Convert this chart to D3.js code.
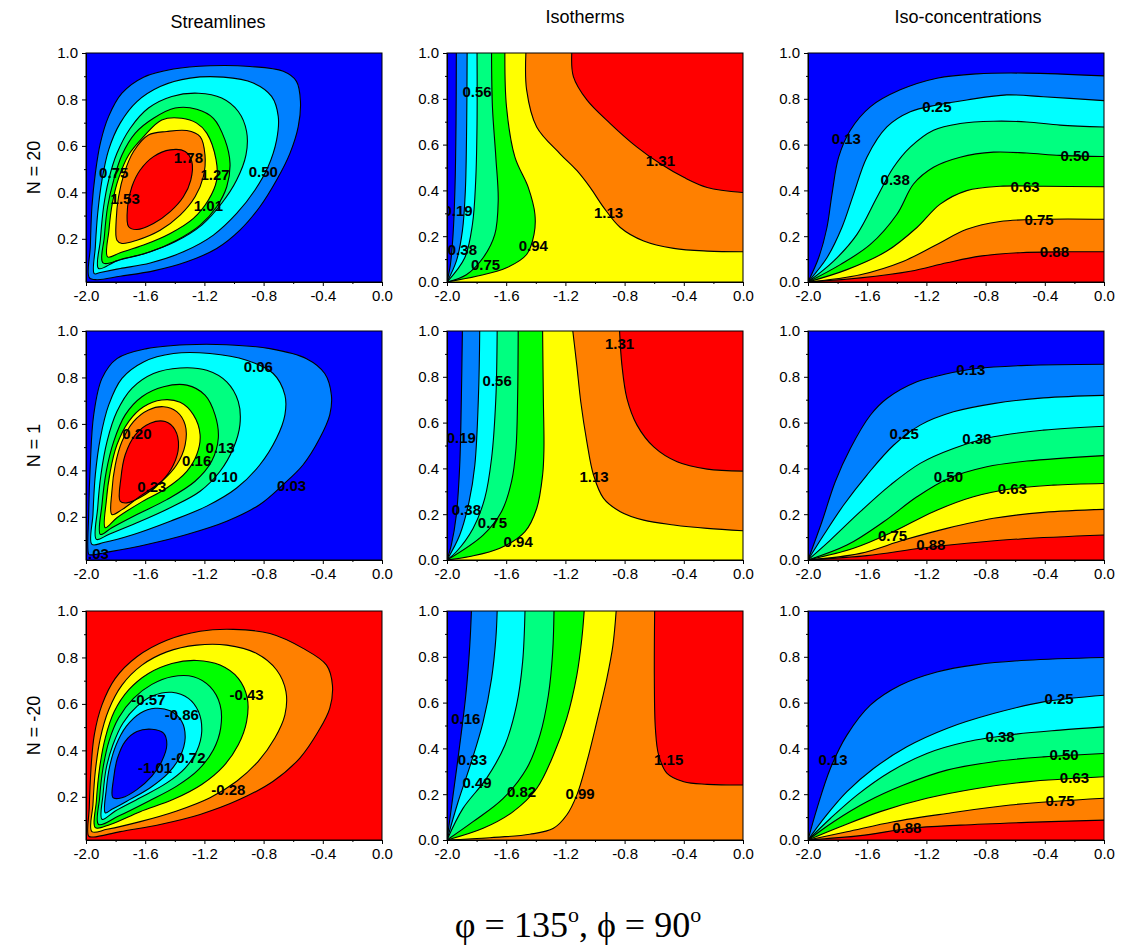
<!DOCTYPE html>
<html>
<head>
<meta charset="utf-8">
<script src="https://cdnjs.cloudflare.com/ajax/libs/d3/7.8.5/d3.min.js"></script>
<style>
  body { margin: 0; background: #fff; }
  text { font-family: "Liberation Sans", Arial, sans-serif; }
</style>
</head>
<body>
<div id="chart"></div>
<script>
// colour scale of the contour bands, low -> high
const palette = ["#0000ff", "#0080ff", "#00ffff", "#00ff80", "#00ff00", "#ffff00", "#ff8000", "#ff0000"];

const xTicks = [-2.0, -1.6, -1.2, -0.8, -0.4, 0.0];
const xMinor = [-1.8, -1.4, -1.0, -0.6, -0.2];
const yTicks = [0.0, 0.2, 0.4, 0.6, 0.8, 1.0];
const yTicksStream = [0.2, 0.4, 0.6, 0.8, 1.0];
const yMinor = [0.1, 0.3, 0.5, 0.7, 0.9];

const columnTitles = ["Streamlines", "Isotherms", "Iso-concentrations"];
const rowTitles = ["N = 20", "N = 1", "N = -20"];

// ---- Streamlines (closed loops, outer -> inner) ----
const psiN20Levels = [0.25, 0.50, 0.75, 1.01, 1.27, 1.53, 1.78];
const psiN20Loops = [
  [[-1.978,0.033],[-1.971,0.165],[-1.960,0.338],[-1.937,0.482],[-1.903,0.612],[-1.847,0.727],[-1.757,0.827],[-1.611,0.896],[-1.409,0.931],[-1.162,0.945],[-0.892,0.942],[-0.667,0.921],[-0.578,0.878],[-0.551,0.791],[-0.566,0.683],[-0.622,0.568],[-0.712,0.453],[-0.825,0.338],[-0.960,0.237],[-1.117,0.158],[-1.319,0.101],[-1.544,0.062],[-1.769,0.039],[-1.926,0.024]],
  [[-1.944,0.050],[-1.937,0.165],[-1.921,0.309],[-1.892,0.453],[-1.847,0.583],[-1.769,0.698],[-1.656,0.791],[-1.499,0.856],[-1.297,0.892],[-1.072,0.896],[-0.870,0.871],[-0.746,0.813],[-0.701,0.727],[-0.712,0.626],[-0.769,0.511],[-0.858,0.410],[-0.982,0.309],[-1.139,0.216],[-1.342,0.144],[-1.566,0.096],[-1.769,0.072],[-1.903,0.055]],
  [[-1.915,0.072],[-1.903,0.194],[-1.881,0.338],[-1.847,0.453],[-1.791,0.568],[-1.701,0.676],[-1.578,0.763],[-1.420,0.813],[-1.240,0.827],[-1.083,0.806],[-0.971,0.748],[-0.915,0.662],[-0.919,0.561],[-0.982,0.453],[-1.083,0.353],[-1.218,0.259],[-1.398,0.187],[-1.600,0.137],[-1.791,0.105]],
  [[-1.885,0.096],[-1.876,0.209],[-1.854,0.338],[-1.813,0.453],[-1.757,0.561],[-1.667,0.655],[-1.544,0.719],[-1.398,0.763],[-1.252,0.758],[-1.139,0.719],[-1.061,0.626],[-1.027,0.525],[-1.049,0.424],[-1.117,0.338],[-1.229,0.259],[-1.387,0.194],[-1.566,0.144],[-1.746,0.115]],
  [[-1.854,0.122],[-1.845,0.237],[-1.822,0.353],[-1.780,0.460],[-1.712,0.561],[-1.611,0.640],[-1.488,0.712],[-1.353,0.719],[-1.252,0.698],[-1.184,0.655],[-1.121,0.540],[-1.117,0.453],[-1.173,0.367],[-1.274,0.288],[-1.431,0.223],[-1.611,0.173],[-1.769,0.140]],
  [[-1.791,0.194],[-1.796,0.281],[-1.780,0.381],[-1.742,0.482],[-1.679,0.576],[-1.578,0.647],[-1.454,0.662],[-1.319,0.666],[-1.229,0.640],[-1.196,0.561],[-1.207,0.468],[-1.263,0.381],[-1.364,0.302],[-1.499,0.237],[-1.656,0.194],[-1.757,0.180]],
  [[-1.712,0.252],[-1.719,0.338],[-1.690,0.424],[-1.634,0.496],[-1.544,0.554],[-1.431,0.583],[-1.330,0.576],[-1.285,0.532],[-1.292,0.453],[-1.342,0.381],[-1.431,0.317],[-1.544,0.266],[-1.656,0.240]]
];
const psiN20Labels = [["0.75",-1.813,0.485],["1.53",-1.735,0.374],["1.78",-1.308,0.551],["1.27",-1.128,0.475],["1.01",-1.173,0.342],["0.50",-0.802,0.489]];

const psiN1Levels = [0.03, 0.06, 0.10, 0.13, 0.16, 0.20, 0.23];
const psiN1Loops = [
  [[-1.982,0.039],[-1.982,0.210],[-1.971,0.424],[-1.948,0.639],[-1.892,0.796],[-1.791,0.881],[-1.589,0.924],[-1.319,0.941],[-1.049,0.941],[-0.757,0.924],[-0.510,0.881],[-0.387,0.817],[-0.342,0.724],[-0.353,0.639],[-0.420,0.539],[-0.533,0.424],[-0.667,0.339],[-0.825,0.253],[-1.049,0.181],[-1.319,0.124],[-1.589,0.081],[-1.836,0.050],[-1.971,0.036]],
  [[-1.960,0.081],[-1.953,0.210],[-1.937,0.381],[-1.903,0.539],[-1.847,0.681],[-1.757,0.796],[-1.611,0.867],[-1.409,0.903],[-1.162,0.903],[-0.915,0.874],[-0.735,0.817],[-0.656,0.724],[-0.656,0.639],[-0.712,0.539],[-0.825,0.424],[-0.982,0.324],[-1.184,0.246],[-1.431,0.181],[-1.679,0.124],[-1.881,0.089]],
  [[-1.930,0.103],[-1.921,0.239],[-1.899,0.381],[-1.858,0.524],[-1.791,0.653],[-1.690,0.753],[-1.544,0.817],[-1.364,0.841],[-1.184,0.831],[-1.049,0.781],[-0.971,0.696],[-0.960,0.596],[-1.004,0.496],[-1.094,0.396],[-1.229,0.310],[-1.431,0.239],[-1.656,0.174],[-1.847,0.124]],
  [[-1.903,0.124],[-1.892,0.253],[-1.863,0.396],[-1.813,0.524],[-1.735,0.639],[-1.622,0.717],[-1.476,0.760],[-1.319,0.767],[-1.196,0.724],[-1.128,0.639],[-1.106,0.539],[-1.151,0.439],[-1.263,0.353],[-1.454,0.274],[-1.656,0.210],[-1.825,0.153]],
  [[-1.870,0.153],[-1.863,0.267],[-1.836,0.396],[-1.791,0.510],[-1.712,0.610],[-1.611,0.674],[-1.488,0.703],[-1.364,0.693],[-1.274,0.639],[-1.229,0.553],[-1.252,0.467],[-1.319,0.396],[-1.454,0.324],[-1.634,0.260],[-1.791,0.196]],
  [[-1.825,0.210],[-1.825,0.310],[-1.802,0.424],[-1.757,0.524],[-1.679,0.610],[-1.578,0.660],[-1.476,0.674],[-1.387,0.653],[-1.330,0.596],[-1.330,0.510],[-1.387,0.424],[-1.488,0.353],[-1.634,0.289],[-1.757,0.231]],
  [[-1.769,0.267],[-1.764,0.367],[-1.735,0.467],[-1.667,0.553],[-1.566,0.603],[-1.465,0.610],[-1.398,0.574],[-1.375,0.503],[-1.409,0.424],[-1.488,0.353],[-1.600,0.296],[-1.724,0.260]]
];
const psiN1Labels = [["0.06",-0.836,0.846],["0.20",-1.656,0.560],["0.13",-1.094,0.496],["0.16",-1.252,0.443],["0.10",-1.072,0.374],["0.23",-1.555,0.331],["0.03",-0.611,0.336],["0.03",-1.944,0.041]];

const psiNm20Levels = [-0.14, -0.28, -0.43, -0.57, -0.72, -0.86, -1.01];
const psiNm20Loops = [
  [[-1.982,0.031],[-1.978,0.153],[-1.966,0.324],[-1.944,0.467],[-1.892,0.596],[-1.802,0.710],[-1.656,0.803],[-1.454,0.874],[-1.229,0.913],[-1.004,0.921],[-0.757,0.903],[-0.533,0.839],[-0.375,0.767],[-0.335,0.681],[-0.353,0.581],[-0.431,0.481],[-0.555,0.367],[-0.735,0.267],[-0.960,0.189],[-1.229,0.124],[-1.499,0.081],[-1.769,0.050],[-1.948,0.027]],
  [[-1.960,0.050],[-1.953,0.167],[-1.937,0.310],[-1.903,0.453],[-1.847,0.574],[-1.757,0.681],[-1.622,0.767],[-1.454,0.824],[-1.252,0.853],[-1.049,0.853],[-0.847,0.817],[-0.712,0.746],[-0.649,0.653],[-0.656,0.553],[-0.724,0.453],[-0.836,0.353],[-0.982,0.267],[-1.162,0.196],[-1.387,0.139],[-1.634,0.093],[-1.858,0.060]],
  [[-1.937,0.067],[-1.930,0.181],[-1.908,0.324],[-1.870,0.453],[-1.809,0.567],[-1.712,0.660],[-1.578,0.731],[-1.420,0.774],[-1.252,0.787],[-1.094,0.767],[-0.971,0.710],[-0.910,0.624],[-0.915,0.524],[-0.971,0.424],[-1.072,0.331],[-1.218,0.253],[-1.409,0.189],[-1.634,0.136],[-1.836,0.081]],
  [[-1.915,0.081],[-1.908,0.196],[-1.885,0.324],[-1.845,0.439],[-1.780,0.539],[-1.679,0.624],[-1.555,0.684],[-1.420,0.717],[-1.274,0.717],[-1.162,0.674],[-1.094,0.596],[-1.090,0.496],[-1.139,0.403],[-1.240,0.317],[-1.387,0.246],[-1.578,0.181],[-1.780,0.117]],
  [[-1.892,0.103],[-1.885,0.210],[-1.863,0.324],[-1.818,0.424],[-1.751,0.517],[-1.656,0.589],[-1.544,0.636],[-1.420,0.650],[-1.308,0.624],[-1.240,0.567],[-1.218,0.481],[-1.252,0.396],[-1.330,0.324],[-1.454,0.260],[-1.634,0.196],[-1.802,0.139]],
  [[-1.870,0.131],[-1.863,0.231],[-1.840,0.331],[-1.796,0.424],[-1.728,0.503],[-1.634,0.560],[-1.533,0.581],[-1.431,0.570],[-1.353,0.524],[-1.330,0.453],[-1.364,0.374],[-1.443,0.303],[-1.566,0.239],[-1.724,0.181],[-1.825,0.146]],
  [[-1.818,0.196],[-1.813,0.281],[-1.787,0.367],[-1.735,0.439],[-1.656,0.481],[-1.555,0.491],[-1.476,0.474],[-1.454,0.424],[-1.488,0.353],[-1.555,0.289],[-1.656,0.231],[-1.757,0.196]]
];
const psiNm20Labels = [["-0.57",-1.578,0.617],["-0.43",-0.915,0.641],["-0.86",-1.353,0.553],["-0.72",-1.308,0.367],["-1.01",-1.533,0.324],["-0.28",-1.038,0.231]];

// ---- Isotherms (open lines, each from its lower/right end to the top edge) ----
const thetaN20Levels = [0.19, 0.38, 0.56, 0.75, 0.94, 1.13, 1.31];
const thetaN20Lines = [
  [[-2,0],[-1.977,0.076],[-1.959,0.208],[-1.946,0.413],[-1.939,0.692],[-1.937,1]],
  [[-2,0],[-1.937,0.091],[-1.896,0.223],[-1.876,0.399],[-1.867,0.692],[-1.864,1]],
  [[-2,0],[-1.880,0.106],[-1.828,0.252],[-1.806,0.443],[-1.797,0.692],[-1.797,1]],
  [[-2,0],[-1.869,0.032],[-1.756,0.106],[-1.677,0.208],[-1.654,0.355],[-1.670,0.545],[-1.693,0.765],[-1.699,1]],
  [[-2,0],[-1.801,0.025],[-1.598,0.062],[-1.462,0.120],[-1.412,0.208],[-1.406,0.296],[-1.451,0.413],[-1.541,0.545],[-1.598,0.765],[-1.609,1]],
  [[0,0.132],[-0.242,0.135],[-0.468,0.147],[-0.671,0.179],[-0.829,0.238],[-0.942,0.326],[-1.033,0.413],[-1.123,0.487],[-1.236,0.560],[-1.394,0.677],[-1.462,0.839],[-1.467,1]],
  [[0,0.391],[-0.242,0.413],[-0.400,0.457],[-0.558,0.516],[-0.716,0.589],[-0.897,0.692],[-1.055,0.795],[-1.146,0.897],[-1.157,1]]
];
const thetaN20Labels = [["0.19",-1.925,0.311],["0.38",-1.896,0.140],["0.56",-1.797,0.831],["0.75",-1.740,0.076],["0.94",-1.417,0.157],["1.13",-0.908,0.304],["1.31",-0.558,0.531]];

const thetaN1Levels = [0.19, 0.38, 0.56, 0.75, 0.94, 1.13, 1.31];
const thetaN1Lines = [
  [[-2,0],[-1.971,0.065],[-1.937,0.196],[-1.914,0.414],[-1.903,0.705],[-1.896,1]],
  [[-2,0],[-1.914,0.109],[-1.851,0.254],[-1.812,0.414],[-1.788,0.705],[-1.779,1]],
  [[-2,0],[-1.937,0.036],[-1.824,0.138],[-1.745,0.269],[-1.699,0.443],[-1.670,0.705],[-1.661,1]],
  [[-2,0],[-1.756,0.109],[-1.632,0.211],[-1.564,0.342],[-1.534,0.487],[-1.523,0.705],[-1.519,1]],
  [[-2,0],[-1.846,0.015],[-1.643,0.051],[-1.473,0.124],[-1.394,0.225],[-1.354,0.371],[-1.345,0.487],[-1.349,0.705],[-1.354,1]],
  [[0,0.128],[-0.242,0.138],[-0.468,0.153],[-0.671,0.174],[-0.829,0.211],[-0.942,0.269],[-1.010,0.371],[-1.055,0.516],[-1.096,0.690],[-1.123,0.850],[-1.150,1]],
  [[0,0.388],[-0.242,0.397],[-0.445,0.429],[-0.603,0.494],[-0.716,0.589],[-0.784,0.705],[-0.818,0.850],[-0.834,1]]
];
const thetaN1Labels = [["1.31",-0.834,0.945],["0.56",-1.661,0.782],["0.19",-1.903,0.533],["1.13",-1.006,0.366],["0.38",-1.869,0.218],["0.75",-1.693,0.164],["0.94",-1.519,0.080]];

const thetaNm20Levels = [0.16, 0.33, 0.49, 0.66, 0.82, 0.99, 1.15];
const thetaNm20Lines = [
  [[-2,0],[-1.959,0.196],[-1.914,0.414],[-1.873,0.632],[-1.846,0.850],[-1.835,1]],
  [[-2,0],[-1.925,0.167],[-1.835,0.342],[-1.756,0.516],[-1.699,0.705],[-1.670,0.879],[-1.661,1]],
  [[-2,0],[-1.892,0.138],[-1.733,0.269],[-1.609,0.414],[-1.530,0.589],[-1.489,0.778],[-1.473,1]],
  [[-2,0],[-1.824,0.080],[-1.620,0.182],[-1.462,0.312],[-1.372,0.458],[-1.315,0.632],[-1.286,0.821],[-1.277,1]],
  [[-2,0],[-1.756,0.051],[-1.553,0.124],[-1.394,0.225],[-1.281,0.371],[-1.191,0.531],[-1.123,0.719],[-1.089,0.879],[-1.073,1]],
  [[-2,0],[-1.711,0.010],[-1.440,0.025],[-1.281,0.051],[-1.191,0.109],[-1.123,0.196],[-1.055,0.342],[-0.988,0.516],[-0.920,0.705],[-0.879,0.850],[-0.857,1]],
  [[0,0.240],[-0.242,0.243],[-0.400,0.254],[-0.513,0.291],[-0.570,0.371],[-0.592,0.487],[-0.599,0.705],[-0.597,1]]
];
const thetaNm20Labels = [["0.16",-1.873,0.528],["0.33",-1.828,0.349],["0.49",-1.797,0.251],["0.82",-1.496,0.211],["0.99",-1.101,0.203],["1.15",-0.502,0.353]];

// ---- Iso-concentrations (open lines from the corner at (-2, 0) to the right edge) ----
const phiN20Levels = [0.13, 0.25, 0.38, 0.50, 0.63, 0.75, 0.88];
const phiN20Lines = [
  [[-2,0],[-1.928,0.106],[-1.872,0.238],[-1.838,0.384],[-1.793,0.545],[-1.714,0.663],[-1.579,0.765],[-1.377,0.839],[-1.129,0.890],[-0.859,0.909],[-0.522,0.912],[0,0.900]],
  [[-2,0],[-1.872,0.106],[-1.771,0.238],[-1.692,0.384],[-1.602,0.545],[-1.467,0.677],[-1.309,0.743],[-1.129,0.773],[-0.927,0.795],[-0.657,0.817],[-0.409,0.809],[0,0.792]],
  [[-2,0],[-1.827,0.091],[-1.669,0.208],[-1.534,0.370],[-1.422,0.501],[-1.309,0.589],[-1.152,0.663],[-0.972,0.692],[-0.747,0.702],[-0.522,0.699],[-0.297,0.685],[0,0.677]],
  [[-2,0],[-1.782,0.076],[-1.579,0.164],[-1.399,0.296],[-1.287,0.428],[-1.152,0.501],[-0.972,0.545],[-0.747,0.567],[-0.522,0.563],[-0.297,0.553],[0,0.548]],
  [[-2,0],[-1.737,0.054],[-1.467,0.135],[-1.264,0.238],[-1.107,0.340],[-0.927,0.399],[-0.702,0.418],[-0.409,0.418],[0,0.416]],
  [[-2,0],[-1.647,0.032],[-1.354,0.091],[-1.129,0.164],[-0.927,0.230],[-0.702,0.264],[-0.409,0.274],[0,0.274]],
  [[-2,0],[-1.647,0.018],[-1.309,0.047],[-1.062,0.084],[-0.837,0.113],[-0.567,0.128],[-0.297,0.132],[0,0.132]]
];
const phiN20Labels = [["0.13",-1.741,0.626],["0.25",-1.129,0.768],["0.38",-1.411,0.446],["0.50",-0.196,0.553],["0.63",-0.533,0.418],["0.75",-0.439,0.271],["0.88",-0.335,0.132]];

const phiN1Levels = [0.13, 0.25, 0.38, 0.50, 0.63, 0.75, 0.88];
const phiN1Lines = [
  [[-2,0],[-1.906,0.167],[-1.816,0.342],[-1.714,0.487],[-1.579,0.632],[-1.467,0.705],[-1.264,0.778],[-1.084,0.810],[-0.859,0.836],[-0.522,0.850],[0,0.855]],
  [[-2,0],[-1.894,0.109],[-1.759,0.240],[-1.602,0.371],[-1.422,0.501],[-1.242,0.589],[-1.017,0.647],[-0.747,0.683],[-0.409,0.708],[0,0.719]],
  [[-2,0],[-1.849,0.087],[-1.647,0.211],[-1.444,0.327],[-1.242,0.422],[-1.017,0.487],[-0.747,0.538],[-0.409,0.567],[0,0.584]],
  [[-2,0],[-1.737,0.065],[-1.489,0.167],[-1.264,0.276],[-1.051,0.356],[-0.792,0.407],[-0.522,0.432],[0,0.456]],
  [[-2,0],[-1.692,0.051],[-1.422,0.124],[-1.152,0.211],[-0.882,0.276],[-0.612,0.312],[-0.342,0.327],[0,0.334]],
  [[-2,0],[-1.647,0.029],[-1.354,0.087],[-1.062,0.138],[-0.747,0.182],[-0.409,0.208],[0,0.221]],
  [[-2,0],[-1.602,0.019],[-1.242,0.051],[-0.927,0.073],[-0.567,0.092],[0,0.109]]
];
const phiN1Labels = [["0.13",-0.900,0.833],["0.25",-1.350,0.552],["0.38",-0.859,0.531],["0.50",-1.051,0.363],["0.63",-0.619,0.312],["0.75",-1.429,0.106],["0.88",-1.170,0.068]];

const phiNm20Levels = [0.13, 0.25, 0.38, 0.50, 0.63, 0.75, 0.88];
const phiNm20Lines = [
  [[-2,0],[-1.939,0.138],[-1.849,0.312],[-1.737,0.458],[-1.579,0.589],[-1.377,0.676],[-1.129,0.734],[-0.859,0.766],[-0.522,0.785],[0,0.797]],
  [[-2,0],[-1.883,0.102],[-1.737,0.211],[-1.557,0.312],[-1.332,0.407],[-1.062,0.487],[-0.747,0.552],[-0.409,0.603],[0,0.632]],
  [[-2,0],[-1.849,0.094],[-1.669,0.196],[-1.444,0.298],[-1.197,0.378],[-0.927,0.429],[-0.612,0.461],[-0.297,0.480],[0,0.494]],
  [[-2,0],[-1.827,0.080],[-1.602,0.167],[-1.354,0.240],[-1.062,0.305],[-0.747,0.342],[-0.409,0.363],[0,0.378]],
  [[-2,0],[-1.782,0.058],[-1.512,0.124],[-1.197,0.182],[-0.859,0.225],[-0.522,0.254],[0,0.276]],
  [[-2,0],[-1.737,0.036],[-1.422,0.080],[-1.062,0.116],[-0.634,0.153],[0,0.182]],
  [[-2,0],[-1.647,0.019],[-1.309,0.051],[-0.972,0.065],[-0.522,0.077],[0,0.087]]
];
const phiNm20Labels = [["0.13",-1.831,0.353],["0.25",-0.304,0.618],["0.38",-0.702,0.451],["0.50",-0.270,0.371],["0.63",-0.200,0.272],["0.75",-0.297,0.172],["0.88",-1.332,0.055]];

// ---------------------------------------------------------------------------
const svgWidth = 1126, svgHeight = 947;
const colX = [86, 447, 808], rowY = [53, 331, 611];
const pw = 296, ph = 229;

const svg = d3.select("#chart").append("svg")
  .attr("width", svgWidth)
  .attr("height", svgHeight);

// bg: palette index of the outside region, step: direction in the palette for each band
const panels = [
  {row: 0, col: 0, type: "loop", lines: psiN20Loops,   labels: psiN20Labels,   bg: 0, step: 1,  yMin: 0.014},
  {row: 1, col: 0, type: "loop", lines: psiN1Loops,    labels: psiN1Labels,    bg: 0, step: 1,  yMin: 0.014},
  {row: 2, col: 0, type: "loop", lines: psiNm20Loops,  labels: psiNm20Labels,  bg: 7, step: -1, yMin: 0.014},
  {row: 0, col: 1, type: "open", lines: thetaN20Lines, labels: thetaN20Labels, bg: 0, step: 1,  yMin: 0},
  {row: 1, col: 1, type: "open", lines: thetaN1Lines,  labels: thetaN1Labels,  bg: 0, step: 1,  yMin: 0},
  {row: 2, col: 1, type: "open", lines: thetaNm20Lines,labels: thetaNm20Labels,bg: 0, step: 1,  yMin: 0},
  {row: 0, col: 2, type: "open", lines: phiN20Lines,   labels: phiN20Labels,   bg: 0, step: 1,  yMin: 0},
  {row: 1, col: 2, type: "open", lines: phiN1Lines,    labels: phiN1Labels,    bg: 0, step: 1,  yMin: 0},
  {row: 2, col: 2, type: "open", lines: phiNm20Lines,  labels: phiNm20Labels,  bg: 0, step: 1,  yMin: 0}
];

// position of a point on the plot border, measured clockwise from the top-left corner
function edgeT(p) {
  const e = 1e-6;
  if (Math.abs(p[1] - 1) < e) return p[0] + 2;
  if (Math.abs(p[0]) < e) return 2 + (1 - p[1]);
  if (Math.abs(p[1]) < e) return 3 - p[0];
  return 5 + p[1];
}
const corners = [[0, [-2, 1]], [2, [0, 1]], [3, [0, 0]], [5, [-2, 0]]];

// corners passed when walking the border clockwise from the line's end back to its start
function closingCorners(line) {
  const te = edgeT(line[line.length - 1]);
  let ts = edgeT(line[0]);
  if (ts <= te) ts += 6;
  const out = [];
  [0, 6].forEach(k => corners.forEach(([t, c]) => {
    if (t + k > te + 1e-9 && t + k < ts - 1e-9) out.push(c);
  }));
  return out;
}

panels.forEach(p => {
  const g = svg.append("g").attr("transform", `translate(${colX[p.col]},${rowY[p.row]})`);
  const x = d3.scaleLinear().domain([-2, 0]).range([0, pw]);
  const y = d3.scaleLinear().domain([p.yMin, 1]).range([ph, 0]);

  const clipId = `clip-${p.row}-${p.col}`;
  g.append("clipPath").attr("id", clipId)
    .append("rect").attr("width", pw).attr("height", ph);
  const body = g.append("g").attr("clip-path", `url(#${clipId})`);

  body.append("rect")
    .attr("width", pw).attr("height", ph)
    .attr("fill", palette[p.bg]);

  const closed = d3.line().x(d => x(d[0])).y(d => y(d[1])).curve(d3.curveCatmullRomClosed.alpha(0.5));
  const open = d3.line().x(d => x(d[0])).y(d => y(d[1])).curve(d3.curveCatmullRom.alpha(0.5));

  // filled bands, painted from the outside in
  body.selectAll("path.band")
    .data(p.lines)
    .enter()
    .append("path")
    .attr("class", "band")
    .attr("fill", (d, i) => palette[p.bg + p.step * (i + 1)])
    .attr("d", d => {
      if (p.type === "loop") return closed(d);
      return open(d) + closingCorners(d).map(c => `L${x(c[0])},${y(c[1])}`).join("") + "Z";
    });

  body.selectAll("path.iso")
    .data(p.lines)
    .enter()
    .append("path")
    .attr("class", "iso")
    .attr("fill", "none")
    .attr("stroke", "#000")
    .attr("stroke-width", 1.1)
    .attr("d", d => p.type === "loop" ? closed(d) : open(d));

  body.selectAll("text.lab")
    .data(p.labels)
    .enter()
    .append("text")
    .attr("class", "lab")
    .attr("x", d => x(d[1]))
    .attr("y", d => y(d[2]))
    .attr("dy", "0.36em")
    .attr("text-anchor", "middle")
    .style("font-size", "15px")
    .style("font-weight", "bold")
    .text(d => d[0]);

  // axes
  const xAxis = g.append("g").attr("transform", `translate(0,${ph})`)
    .call(d3.axisBottom(x).tickValues(xTicks).tickFormat(d => d.toFixed(1)).tickSize(4).tickSizeOuter(0).tickPadding(4));
  g.append("g").attr("transform", `translate(0,${ph})`)
    .call(d3.axisBottom(x).tickValues(xMinor).tickFormat("").tickSize(2).tickSizeOuter(0))
    .select(".domain").remove();

  const yAxis = g.append("g")
    .call(d3.axisLeft(y).tickValues(p.col === 0 ? yTicksStream : yTicks).tickFormat(d => d.toFixed(1)).tickSize(4).tickSizeOuter(0).tickPadding(4));
  g.append("g")
    .call(d3.axisLeft(y).tickValues(yMinor).tickFormat("").tickSize(2).tickSizeOuter(0))
    .select(".domain").remove();

  [xAxis, yAxis].forEach(a => a.selectAll("text")
    .style("font-size", "15px")
    .style("font-family", "'Liberation Sans', Arial, sans-serif")
    .attr("fill", "#000"));

  g.append("rect")
    .attr("width", pw).attr("height", ph)
    .attr("fill", "none")
    .attr("stroke", "#000")
    .attr("stroke-width", 1);
});

// column and row titles
const colTitleX = [218, 585, 968], colTitleY = [28, 23, 23];
svg.selectAll("text.coltitle")
  .data(columnTitles)
  .enter()
  .append("text")
  .attr("class", "coltitle")
  .attr("x", (d, i) => colTitleX[i])
  .attr("y", (d, i) => colTitleY[i])
  .attr("text-anchor", "middle")
  .style("font-size", "18px")
  .text(d => d);

svg.selectAll("text.rowtitle")
  .data(rowTitles)
  .enter()
  .append("text")
  .attr("class", "rowtitle")
  .attr("transform", (d, i) => `translate(40,${rowY[i] + ph / 2}) rotate(-90)`)
  .attr("text-anchor", "middle")
  .style("font-size", "18px")
  .text(d => d);

// bottom caption
const caption = svg.append("text")
  .attr("x", 578)
  .attr("y", 937)
  .attr("text-anchor", "middle")
  .style("font-family", "'Liberation Serif', 'Times New Roman', serif")
  .style("font-size", "36px");
caption.append("tspan").text("\u03c6 = 135");
caption.append("tspan").attr("dy", -15).style("font-size", "22px").text("o");
caption.append("tspan").attr("dy", 15).text(", \u03d5 = 90");
caption.append("tspan").attr("dy", -15).style("font-size", "22px").text("o");
</script>
</body>
</html>
